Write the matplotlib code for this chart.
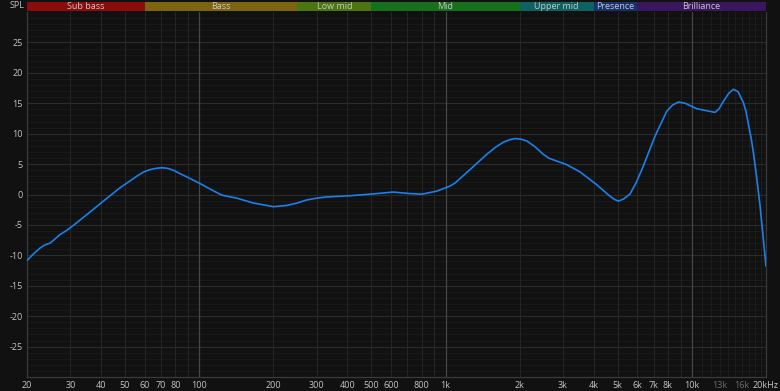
import matplotlib
matplotlib.use("Agg")
import matplotlib.pyplot as plt
import matplotlib.transforms as mtransforms
from matplotlib.patches import Rectangle

# ---- data ----
freq = [20.06, 21.2, 22.6, 23.6, 24.8, 26.0, 27.2, 29.0, 30.8, 35.0, 40.8, 47.7, 55.8,
        59.5, 63.2, 66.8, 70.5, 74.5, 78.5, 83.0, 89.0, 100.8, 112, 123.4, 142, 166,
        200, 227, 250, 273, 300, 330, 410, 509, 614, 718, 801, 921, 1044, 1094, 1258,
        1470, 1600, 1718, 1820, 1916, 2020, 2138, 2300, 2496, 2620, 2740, 3106, 3518,
        4112, 4656, 4850, 5032, 5300, 5614, 5950, 6358, 7090, 7912, 8350, 8820, 9400,
        10472, 11400, 12428, 12900, 13428, 14100, 14750, 15400, 16192, 16600, 16968,
        17400, 17780, 18350, 18926, 19450, 20000]
spl = [-10.8, -9.8, -8.8, -8.3, -8.0, -7.3, -6.6, -5.9, -5.1, -3.3, -1.1, 1.1, 3.0,
       3.7, 4.1, 4.3, 4.4, 4.3, 4.0, 3.5, 2.9, 1.8, 0.8, -0.1, -0.6, -1.4,
       -2.0, -1.8, -1.4, -0.9, -0.6, -0.4, -0.2, 0.1, 0.4, 0.15, 0.05, 0.55, 1.4, 1.9, 4.1,
       6.6, 7.8, 8.6, 9.0, 9.2, 9.1, 8.8, 7.9, 6.6, 6.0, 5.7, 4.9, 3.7,
       1.6, -0.3, -0.8, -1.1, -0.7, 0.1, 2.0, 4.7, 9.6, 13.7, 14.7, 15.2, 15.0,
       14.1, 13.8, 13.5, 14.1, 15.3, 16.6, 17.3, 16.9, 15.1, 13.6, 11.5,
       9.3, 6.9, 2.6, -1.9, -6.8, -11.8]

band_names = ["Sub bass", "Bass", "Low mid", "Mid", "Upper mid", "Presence", "Brilliance"]
band_edges = [20, 60, 250, 500, 2000, 4000, 6000, 20000]
band_colors = ["#8a0c0c", "#7d6410", "#4b7511", "#17701c", "#0f6262", "#17306e", "#3a165e"]

xtick_vals = [20, 30, 40, 50, 60, 70, 80, 100, 200, 300, 400, 500, 600, 800, 1000,
              2000, 3000, 4000, 5000, 6000, 7000, 8000, 10000, 13000, 16000, 20000]
xtick_labels = ["20", "30", "40", "50", "60", "70", "80", "100", "200", "300", "400",
                "500", "600", "800", "1k", "2k", "3k", "4k", "5k", "6k", "7k", "8k",
                "10k", "13k", "16k", "20kHz"]
ytick_vals = [25, 20, 15, 10, 5, 0, -5, -10, -15, -20, -25]

BG = "#111111"
TXT = "#c4c4c4"
FONT = ["Open Sans", "DejaVu Sans"]

fig = plt.figure(figsize=(7.8, 3.91), dpi=100, facecolor=BG)
ax = fig.add_axes([27/780, 1-377/391, (766-27)/780, (377-12)/391], facecolor=BG)
ax.set_xscale("log")
ax.set_xlim(20, 20000)
ax.set_ylim(-30, 30)

# grid lines
for v in range(-29, 30):
    if v % 5 == 0:
        ax.axhline(v, color="#2c2c2c", lw=0.8, zorder=1)
    else:
        ax.axhline(v, color="#1b1b1b", lw=0.6, zorder=0.5)
for dec in [10, 100, 1000, 10000]:
    for m in range(1, 10):
        f = dec * m
        if f < 20 or f > 20000:
            continue
        if m == 1:
            ax.axvline(f, color="#464646", lw=0.9, zorder=1)
        else:
            ax.axvline(f, color="#262626", lw=0.7, zorder=1)
for f in range(11000, 20000, 1000):
    ax.axvline(f, color="#1f1f1f", lw=0.6, zorder=0.8)

ax.plot(freq, spl, color="#1a80ea", lw=1.2, zorder=3, solid_capstyle="round",
        solid_joinstyle="round")

for s in ["left", "bottom", "right"]:
    ax.spines[s].set_color("#3a3a3a")
    ax.spines[s].set_linewidth(0.9)
ax.spines["top"].set_visible(False)

ax.set_xticks(xtick_vals)
ax.set_xticklabels(xtick_labels)
ax.xaxis.set_minor_locator(matplotlib.ticker.NullLocator())
ax.set_yticks(ytick_vals)
ax.set_yticklabels([str(v) for v in ytick_vals])
ax.tick_params(axis="both", length=0, colors=TXT, labelsize=6.5, pad=3)
for lab in ax.get_xticklabels() + ax.get_yticklabels():
    lab.set_family(FONT)
for lab in ax.get_xticklabels():
    if lab.get_text() in ("13k", "16k"):
        lab.set_color("#6e6e6e")

# band bar
trans = mtransforms.blended_transform_factory(ax.transData, ax.transAxes)
y0 = 1 + 1/365
h = 9/365
for i, name in enumerate(band_names):
    a, b = band_edges[i], band_edges[i+1]
    ax.add_patch(Rectangle((a, y0), b - a, h, transform=trans, facecolor=band_colors[i],
                           edgecolor="none", clip_on=False, zorder=5))
    cx = (a * b) ** 0.5
    ax.text(cx, y0 + h/2, name, transform=trans, ha="center", va="center",
            color="#c8c8c8", fontsize=6.5, family=FONT, clip_on=False, zorder=6)

fig.text(25/780, 1-6/391, "SPL", ha="right", va="center", color=TXT, fontsize=6.5,
         family=FONT)

fig.savefig("out.png", dpi=100, facecolor=BG)
